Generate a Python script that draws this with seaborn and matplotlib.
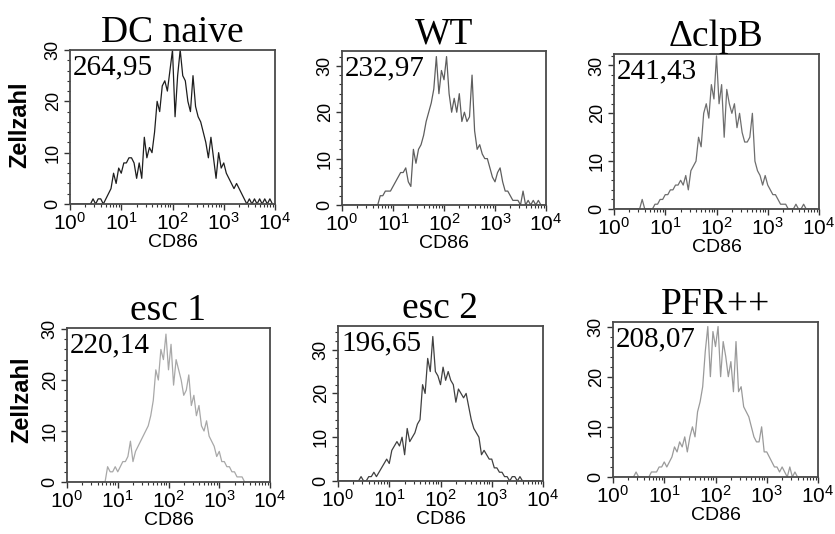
import numpy as np
import matplotlib
matplotlib.use("Agg")
import matplotlib.pyplot as plt
import matplotlib.ticker as mticker
import seaborn as sns

sns.set_style("ticks")
plt.rcParams['font.family'] = ['Liberation Sans', 'DejaVu Sans']
plt.rcParams['mathtext.fontset'] = 'custom'
plt.rcParams['mathtext.rm'] = 'Liberation Sans'
plt.rcParams['mathtext.it'] = 'Liberation Sans:italic'
plt.rcParams['mathtext.bf'] = 'Liberation Sans:bold'
plt.rcParams['text.color'] = 'black'
plt.rcParams['axes.labelcolor'] = 'black'
plt.rcParams['xtick.color'] = 'black'
plt.rcParams['ytick.color'] = 'black'

# CD86 channel positions (log10 of intensity), 20 channels per decade
channel_log = np.arange(0, 4, 0.05)

panel_names = ["DC naive", "WT", "\u0394clpB", "esc 1", "esc 2", "PFR++"]
mean_labels = ["264,95", "232,97", "241,43", "220,14", "196,65", "208,07"]

# cell counts per channel
dc_naive = [0, 0, 0, 0, 0, 0, 0, 0, 0,
            1, 0, 1, 1, 0, 1, 2, 3, 6, 4, 7,
            6, 8, 8, 9, 9, 8, 5, 8, 5, 13, 9, 11, 10, 14, 20, 18, 23, 24, 22, 26,
            30, 17, 25, 30, 25, 24, 20, 18, 25, 19, 17, 16, 14, 12, 9, 13, 9, 5, 10, 7,
            8, 6, 5, 4, 3, 4, 3, 2, 1, 0, 1, 0, 1, 0, 1, 0, 1, 0, 1, 0]
wt = [0, 0, 0, 0, 0, 0, 0, 0, 0, 0, 0, 0, 0, 0, 0,
      2, 2, 3, 3, 3,
      4, 5, 6, 7, 7, 8, 5, 4, 12, 9, 12, 13, 15, 18, 20, 22, 25, 32, 24, 29,
      27, 32, 24, 20, 23, 20, 24, 18, 20, 18, 19, 28, 16, 12, 13, 11, 10, 10, 8, 6,
      5, 7, 8, 5, 3, 3, 2, 1, 1, 1, 0, 3, 0, 1, 0, 1, 0, 1, 0, 0]
clpb = [0, 0, 0, 0, 0, 0, 0, 0, 0, 0, 0,
        2, 0, 0, 0, 0, 1, 1, 2, 2,
        3, 3, 4, 4, 5, 5, 6, 5, 7, 4, 8, 9, 10, 15, 13, 20, 22, 19, 26, 23,
        32, 22, 26, 15, 25, 22, 20, 22, 17, 20, 16, 14, 14, 15, 20, 10, 8, 7, 5, 7,
        5, 4, 3, 3, 2, 1, 1, 1, 0, 0, 0, 1, 0, 0, 1, 0, 0, 0, 0, 0]
esc1 = [0, 0, 0, 0, 0, 0, 0, 0, 0, 0, 0, 0, 0, 0, 0, 0,
        3, 2, 2, 3,
        2, 3, 4, 4, 5, 8, 4, 6, 7, 8, 9, 10, 11, 13, 16, 22, 20, 26, 24, 29,
        22, 27, 19, 24, 22, 20, 17, 18, 21, 15, 17, 13, 15, 11, 10, 12, 9, 8, 7, 5,
        6, 4, 4, 3, 3, 2, 2, 1, 1, 1, 0, 0, 0, 0, 0, 0, 0, 0, 0, 0]
esc2 = [0, 0, 0, 0, 0, 0, 0, 0, 0,
        1, 0, 0, 1, 1, 2, 1, 2, 3, 4, 5,
        4, 7, 8, 9, 8, 10, 6, 12, 9, 10, 11, 13, 14, 22, 20, 28, 25, 33, 25, 24,
        22, 26, 23, 25, 23, 22, 18, 21, 20, 19, 20, 17, 14, 12, 11, 10, 6, 7, 6, 5,
        5, 3, 3, 2, 2, 1, 1, 0, 1, 1, 0, 1, 0, 0, 0, 0, 0, 0, 0, 0]
pfr = [0, 0, 0, 0, 0, 0, 0, 0, 0,
       1, 0, 0, 0, 0, 0, 1, 1, 1, 2, 2,
       3, 2, 3, 4, 6, 5, 7, 6, 8, 5, 8, 10, 8, 13, 15, 18, 25, 30, 20, 29,
       26, 30, 20, 27, 24, 20, 23, 17, 27, 17, 18, 14, 13, 12, 10, 8, 7, 7, 10, 5,
       5, 4, 3, 2, 2, 1, 2, 1, 0, 2, 0, 1, 0, 0, 0, 0, 0, 0, 0, 0]
counts = [dc_naive, wt, clpb, esc1, esc2, pfr]

# layout / style
line_colors = ["#1e1e1e", "#5e5e5e", "#6e6e6e", "#a8a8a8", "#404040", "#9a9a9a"]
y_tops = [30, 33.2, 32.4, 30.2, 35.4, 30.9]
W, H = 835, 534
boxes_px = [(70, 275, 50, 204), (342, 546, 51, 205), (614, 819, 54, 209),
            (67, 270, 328, 482), (338, 543, 326, 481), (613, 818, 322, 477)]

fig = plt.figure(figsize=(W / 100, H / 100), dpi=100)

for i in range(6):
    l, r, t, b = boxes_px[i]
    ax = fig.add_axes([l / W, 1 - b / H, (r - l) / W, (b - t) / H])
    x = 10 ** channel_log
    sns.lineplot(x=x, y=counts[i], ax=ax, color=line_colors[i], linewidth=0.9)
    ax.set_xscale("log")
    ax.set_xlim(1, 1e4)
    ax.set_ylim(0, y_tops[i])
    ax.xaxis.set_major_locator(mticker.LogLocator(base=10, numticks=6))
    ax.xaxis.set_minor_locator(mticker.LogLocator(base=10, subs=np.arange(2, 10), numticks=20))
    ax.xaxis.set_minor_formatter(mticker.NullFormatter())
    ax.yaxis.set_major_locator(mticker.MultipleLocator(10))
    ax.yaxis.set_minor_locator(mticker.MultipleLocator(2))
    ax.tick_params(axis="both", which="major", direction="out", length=4, width=1,
                   color="#333333", pad=2)
    ax.tick_params(axis="both", which="minor", direction="out", length=2, width=0.8,
                   color="#333333")
    ax.tick_params(axis="x", labelsize=15)
    ax.tick_params(axis="y", labelsize=13)
    for lab in ax.get_yticklabels():
        lab.set_rotation(90)
        lab.set_va("center")
    for sp in ax.spines.values():
        sp.set_visible(True)
        sp.set_color("#4a4a4a")
        sp.set_linewidth(1.3)
    ax.set_xlabel("CD86", fontsize=14, labelpad=0)
    ax.set_ylabel("")
    ax.set_title(panel_names[i], family="Liberation Serif", fontsize=27, pad=5)
    ax.text(0.015, 0.97, mean_labels[i], transform=ax.transAxes,
            family="Liberation Serif", fontsize=21, ha="left", va="top")

fig.text(20 / W, 1 - 125 / H, "Zellzahl", rotation=90, ha="center", va="center",
         fontsize=17, fontweight="bold")
fig.text(22 / W, 1 - 400 / H, "Zellzahl", rotation=90, ha="center", va="center",
         fontsize=17, fontweight="bold")

fig.savefig("out.png", dpi=100, facecolor="white")
